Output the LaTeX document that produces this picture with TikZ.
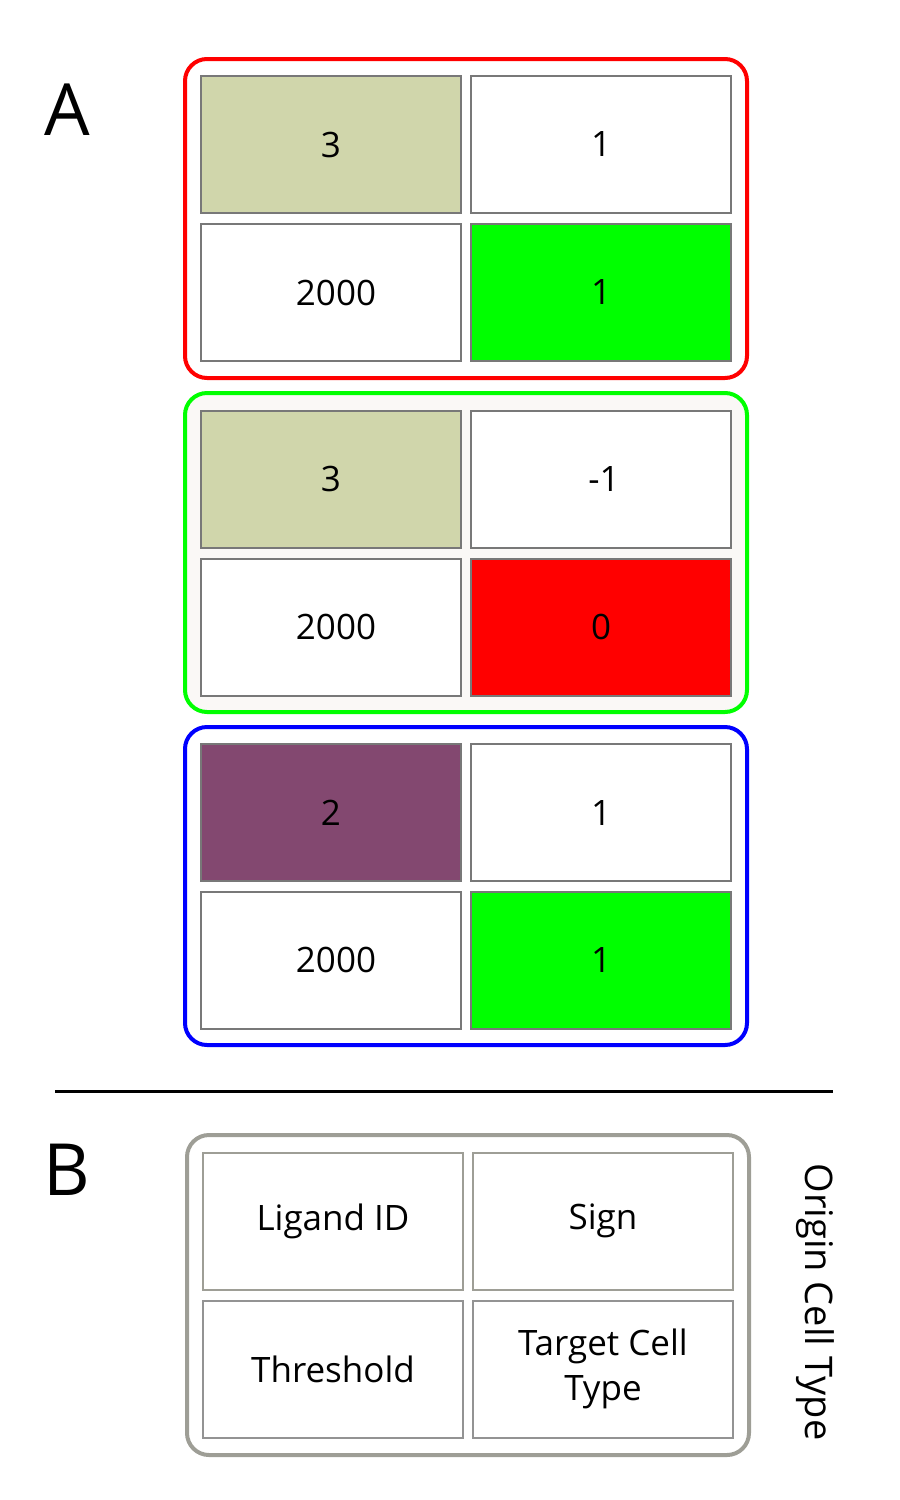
\documentclass[tikz,border=0pt]{standalone}
\usepackage{fontspec}
\setmainfont{Open Sans}
\definecolor{khaki}{RGB}{208,214,171}
\definecolor{plum}{RGB}{131,72,112}
\definecolor{cellline}{RGB}{120,120,120}
\definecolor{panelgray}{RGB}{158,158,150}
\definecolor{offwhite}{RGB}{250,248,246}
\definecolor{pgreen}{RGB}{0,255,0}
\begin{document}
\begin{tikzpicture}[x=1pt,y=-1pt,
  cell/.style={draw=cellline,line width=2pt,minimum width=260pt,minimum height=137pt,inner sep=0pt,font=\fontsize{35}{42}\selectfont,align=center},
  panel/.style={line width=4pt,rounded corners=22pt},
  letter/.style={font=\fontsize{72}{80}\selectfont}]
\useasboundingbox (0,0) rectangle (900,1500);
% panels
\draw[panel,draw=red] (185,59) rectangle (747,378);
\draw[panel,draw=pgreen,fill=offwhite] (185,393) rectangle (747,712);
\draw[panel,draw=blue] (185,727) rectangle (747,1045);
\draw[panel,draw=panelgray] (187,1135) rectangle (749,1455);
% red group
\node[cell,fill=khaki] (r11) at (331,144.5) {3};
\node[cell,fill=white] (r12) at (601,144.5) {1};
\node[cell,fill=white] (r21) at (331,292.5) {\hspace{10pt}2000};
\node[cell,fill=pgreen] (r22) at (601,292.5) {1};
% green group
\node[cell,fill=khaki] (g11) at (331,479) {3};
\node[cell,fill=white] (g12) at (601,479) {\hspace{6pt}-1};
\node[cell,fill=white] (g21) at (331,627) {\hspace{10pt}2000};
\node[cell,fill=red] (g22) at (601,627) {0};
% blue group
\node[cell,fill=plum] (b11) at (331,812.5) {2};
\node[cell,fill=white] (b12) at (601,812.5) {1};
\node[cell,fill=white] (b21) at (331,960) {\hspace{10pt}2000};
\node[cell,fill=pgreen] (b22) at (601,960) {1};
% separator
\coordinate (sepL) at (55,1091);
\coordinate (sepR) at (833,1091);
\draw[line width=3pt] (sepL) -- (sepR);
% legend
\node[cell,draw=panelgray,fill=white] (l11) at (333,1221) {Ligand ID};
\node[cell,draw=panelgray,fill=white] (l12) at (603,1221) {Sign};
\node[cell,draw=cellline!80,fill=white] (l21) at (333,1369) {Threshold};
\node[cell,draw=cellline!80,fill=white,font=\fontsize{35}{45}\selectfont] (l22) at (603,1369) {Target Cell\\Type};
\node[font=\fontsize{38}{42}\selectfont,rotate=-90] (origin) at (815,1302) {Origin Cell Type};
% labels
\node[letter] (A) at (67,110) {A};
\node[letter] (B) at (67,1170) {B};
\end{tikzpicture}
\end{document}
